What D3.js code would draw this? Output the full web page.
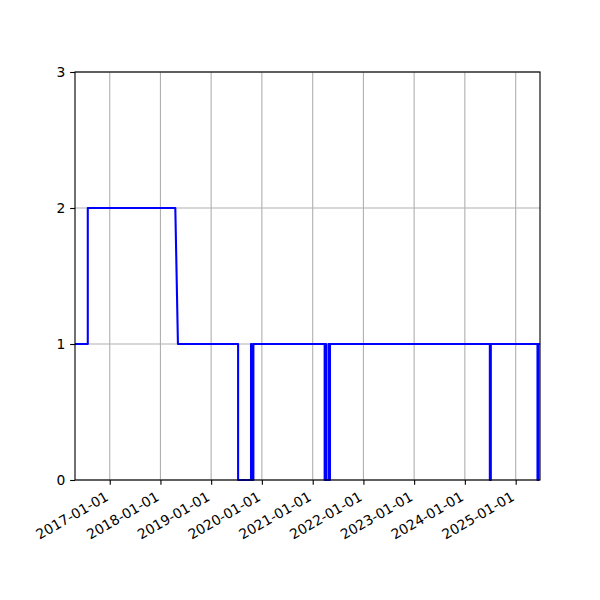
<!DOCTYPE html>
<html>
<head>
<meta charset="utf-8">
<script src="https://cdn.jsdelivr.net/npm/d3@7"></script>
<style>
  html, body { margin: 0; padding: 0; background: #fff; }
  text { font-family: "DejaVu Sans", sans-serif; }
</style>
</head>
<body>
<svg id="chart" width="600" height="600"></svg>
<script>
// Data: step series (date, value)
const dates = [
  "2016-04-26", "2016-07-27", "2016-07-27", "2018-04-18", "2018-05-07",
  "2019-07-14", "2019-07-14", "2019-10-15", "2019-10-15", "2019-10-22",
  "2019-10-22", "2019-11-01", "2019-11-01",
  "2021-03-28", "2021-03-28", "2021-04-04", "2021-04-04", "2021-04-07",
  "2021-04-07", "2021-04-25", "2021-04-25", "2021-05-01", "2021-05-01",
  "2021-05-05", "2021-05-05",
  "2024-06-29", "2024-06-29", "2024-07-06", "2024-07-06",
  "2025-06-07", "2025-06-07", "2025-06-14", "2025-06-14", "2025-06-25"
];
const values = [
  1, 1, 2, 2, 1,
  1, 0, 0, 1, 1,
  0, 0, 1,
  1, 0, 0, 1, 1,
  0, 0, 1, 1, 0,
  0, 1,
  1, 0, 0, 1,
  1, 0, 0, 1, 1
];
const xTickLabels = ["2017-01-01", "2018-01-01", "2019-01-01", "2020-01-01",
  "2021-01-01", "2022-01-01", "2023-01-01", "2024-01-01", "2025-01-01"];
const yTicks = [0, 1, 2, 3];

const parse = d3.utcParse("%Y-%m-%d");
const data = dates.map((d, i) => ({ date: parse(d), value: values[i] }));

const svg = d3.select("#chart");
const L = 75, R = 540, T = 72, B = 480;
const pt = 100 / 72;

const x = d3.scaleUtc()
  .domain(d3.extent(data, d => d.date))
  .range([L, R]);
const y = d3.scaleLinear().domain([0, 3]).range([B, T]);

const xTicks = xTickLabels.map(parse);
const grid = "#b0b0b0";

// grid
svg.append("g").selectAll("line").data(xTicks).join("line")
  .attr("x1", d => x(d)).attr("x2", d => x(d))
  .attr("y1", T).attr("y2", B)
  .attr("stroke", grid).attr("stroke-width", 0.8 * pt);
svg.append("g").selectAll("line").data(yTicks).join("line")
  .attr("x1", L).attr("x2", R)
  .attr("y1", d => y(d)).attr("y2", d => y(d))
  .attr("stroke", grid).attr("stroke-width", 0.8 * pt);

// line
const line = d3.line().x(d => x(d.date)).y(d => y(d.value));
svg.append("path").datum(data)
  .attr("d", line)
  .attr("fill", "none")
  .attr("stroke", "#0000ff")
  .attr("stroke-width", 1.5 * pt)
  .attr("stroke-linejoin", "round");

// axes
const fs = 10 * pt;
const tickLen = 3.5 * pt;
const xAxis = d3.axisBottom(x).tickValues(xTicks)
  .tickFormat(d3.utcFormat("%Y-%m-%d"))
  .tickSizeInner(tickLen).tickSizeOuter(0).tickPadding(0);
const gx = svg.append("g").attr("transform", `translate(0,${B})`).call(xAxis);
gx.select(".domain").remove();
gx.selectAll(".tick line").attr("stroke", "#000").attr("stroke-width", 0.8 * pt);
gx.selectAll(".tick text")
  .attr("font-size", fs)
  .attr("fill", "#000")
  .attr("text-anchor", "end")
  .attr("dy", null)
  .attr("y", null)
  .attr("transform", "translate(-0.8,19.5) rotate(-30)");

const yAxis = d3.axisLeft(y).tickValues(yTicks).tickFormat(d3.format("d"))
  .tickSizeInner(tickLen).tickSizeOuter(0).tickPadding(tickLen);
const gy = svg.append("g").attr("transform", `translate(${L},0)`).call(yAxis);
gy.select(".domain").remove();
gy.selectAll(".tick line").attr("stroke", "#000").attr("stroke-width", 0.8 * pt);
gy.selectAll(".tick text").attr("font-size", fs).attr("fill", "#000");

// spines
svg.append("rect")
  .attr("x", L).attr("y", T).attr("width", R - L).attr("height", B - T)
  .attr("fill", "none").attr("stroke", "#000").attr("stroke-width", 0.8 * pt);
</script>
</body>
</html>
